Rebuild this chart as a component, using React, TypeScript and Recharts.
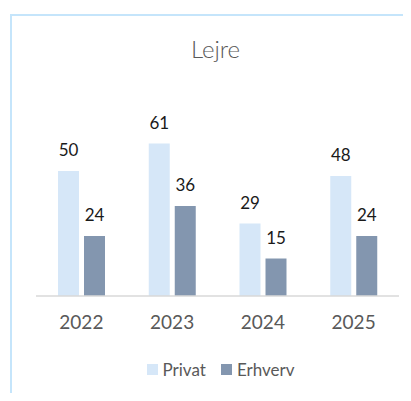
import { Bar, BarChart, LabelList, XAxis, YAxis } from "recharts";

const YEARS = ["2022", "2023", "2024", "2025"];
const PRIVAT = [50, 61, 29, 48];
const ERHVERV = [24, 36, 15, 24];

const SERIES = [
  { key: "privat", name: "Privat", color: "#D6E7F8" },
  { key: "erhverv", name: "Erhverv", color: "#8396AF" },
];

const data = YEARS.map((year, i) => ({
  year,
  privat: PRIVAT[i],
  erhverv: ERHVERV[i],
}));

const FONT = "Lato, 'Noto Sans', sans-serif";

export default function App() {
  return (
    <div
      style={{
        margin: -8,
        width: 411,
        height: 401,
        position: "relative",
        overflow: "hidden",
        background: "#fff",
        fontFamily: FONT,
      }}
    >
      {/* kartens ramme, fortsætter ud over højre og nederste kant */}
      <div
        style={{
          position: "absolute",
          left: 10,
          top: 14,
          width: 440,
          height: 440,
          borderTop: "2px solid #C5E5FB",
          borderLeft: "2px solid #C5E5FB",
        }}
      />
      <div
        style={{
          position: "absolute",
          top: 34,
          left: 0,
          width: 431,
          textAlign: "center",
          fontSize: 24,
          fontWeight: 300,
          color: "#595959",
        }}
      >
        Lejre
      </div>
      <div style={{ position: "absolute", left: 0, top: 0 }}>
        <BarChart
          width={411}
          height={401}
          data={data}
          margin={{ top: 121, right: 12, bottom: 75, left: 36 }}
          barGap={5}
          barSize={21}
        >
          <XAxis
            dataKey="year"
            height={30}
            axisLine={{ stroke: "#D9D9D9", strokeWidth: 1.5 }}
            tickLine={false}
            tickSize={0}
            tickMargin={20}
            tick={{ fill: "#595959", fontSize: 19, fontFamily: FONT }}
          />
          <YAxis hide domain={[0, 70]} />
          {SERIES.map((s) => (
            <Bar
              key={s.key}
              dataKey={s.key}
              name={s.name}
              fill={s.color}
              isAnimationActive={false}
            >
              <LabelList
                dataKey={s.key}
                position="top"
                offset={15}
                fill="#1a1a1a"
                fontSize={17}
                fontFamily={FONT}
              />
            </Bar>
          ))}
        </BarChart>
      </div>
      <div
        style={{
          position: "absolute",
          top: 359,
          left: 0,
          width: 441,
          display: "flex",
          justifyContent: "center",
          gap: 15,
          fontSize: 17,
          color: "#595959",
        }}
      >
        {SERIES.map((s) => (
          <div key={s.key} style={{ display: "flex", alignItems: "center", gap: 5 }}>
            <span style={{ width: 11, height: 11, background: s.color, display: "inline-block" }} />
            <span>{s.name}</span>
          </div>
        ))}
      </div>
    </div>
  );
}
